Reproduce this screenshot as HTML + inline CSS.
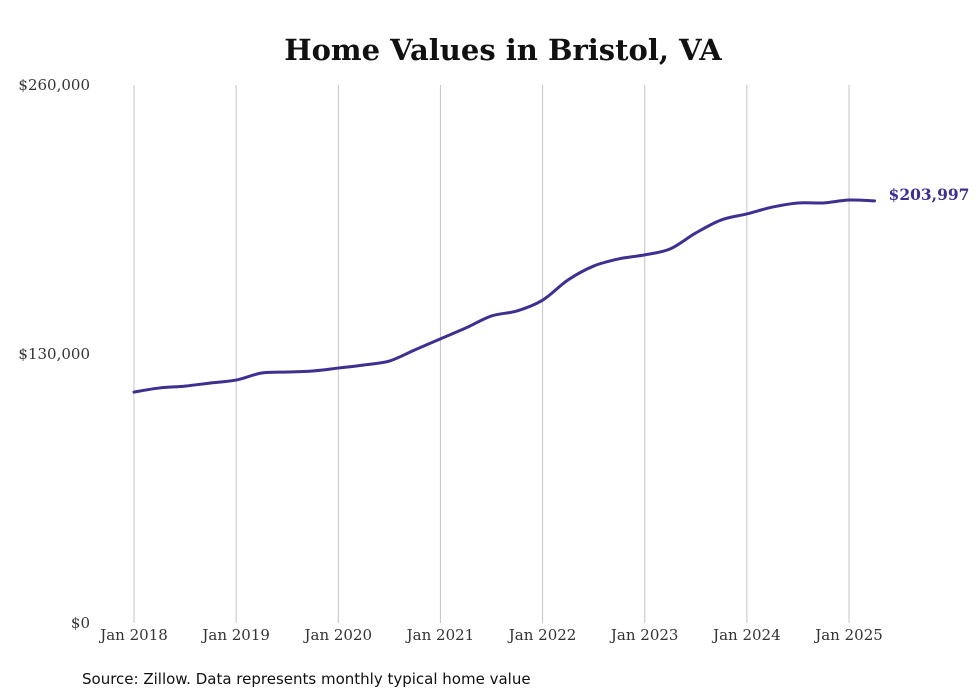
<!DOCTYPE html>
<html><head><meta charset="utf-8">
<style>
html,body{margin:0;padding:0;background:#fff;}
svg{display:block;font-family:"DejaVu Serif","Liberation Serif",serif;}
</style></head>
<body>
<svg id="chart" width="980" height="699" viewBox="0 0 980 699">
<text x="503" y="60" text-anchor="middle" font-size="29" font-weight="bold" fill="#111">Home Values in Bristol, VA</text>
<g id="grid"></g>
<g id="yticks"></g>
<g id="xticks"></g>
<path id="line" fill="none" stroke="#3d3090" stroke-width="3" stroke-linejoin="round" stroke-linecap="round"></path>
<text id="endlabel" font-size="15.5" font-weight="bold" fill="#3d3090"></text>
<text x="82" y="684" font-size="15" fill="#111" font-family="DejaVu Sans, Liberation Sans, sans-serif">Source: Zillow. Data represents monthly typical home value</text>
</svg>
<script>
const months = [0,3,6,9,12,15,18,21,24,27,30,33,36,39,42,45,48,51,54,57,60,63,66,69,72,75,78,81,84,87];
const values = [111.6,113.6,114.5,116,117.4,120.8,121.3,121.8,123.2,124.7,126.6,132,137.3,142.6,148.4,150.8,156,165.8,172.5,176,177.9,180.8,188.5,194.8,197.7,201,203,203,204.4,204.0];
const yTickValues = [0,130,260];
const yTickLabels = ["$0","$130,000","$260,000"];
const xTickMonths = [0,12,24,36,48,60,72,84];
const xTickLabels = ["Jan 2018","Jan 2019","Jan 2020","Jan 2021","Jan 2022","Jan 2023","Jan 2024","Jan 2025"];
const lastLabel = "$203,997";

const NS="http://www.w3.org/2000/svg";
const x = m => 134 + m*(849-134)/84;
const y = v => 623 - v*(623-85)/260;
const grid=document.getElementById('grid'), yt=document.getElementById('yticks'), xt=document.getElementById('xticks');
xTickMonths.forEach((m,i)=>{
  const l=document.createElementNS(NS,'line');
  l.setAttribute('x1',x(m));l.setAttribute('x2',x(m));l.setAttribute('y1',85);l.setAttribute('y2',623);
  l.setAttribute('stroke','#c4c4c4');l.setAttribute('stroke-width','1');
  
  
  grid.appendChild(l);
  const t=document.createElementNS(NS,'text');
  t.setAttribute('x',x(m));t.setAttribute('y',640);t.setAttribute('text-anchor','middle');
  t.setAttribute('font-size','15');t.setAttribute('fill','#333');
  t.textContent=xTickLabels[i];
  
  
  xt.appendChild(t);
});
yTickValues.forEach((v,i)=>{
  const t=document.createElementNS(NS,'text');
  t.setAttribute('x',90);t.setAttribute('y',y(v)+5);t.setAttribute('text-anchor','end');
  t.setAttribute('font-size','15');t.setAttribute('fill','#333');
  t.textContent=yTickLabels[i];
  
  
  yt.appendChild(t);
});
const pts=months.map((m,i)=>[x(m),y(values[i])]);
let d=`M${pts[0][0]},${pts[0][1]}`;
for(let i=0;i<pts.length-1;i++){
  const p0=pts[Math.max(0,i-1)],p1=pts[i],p2=pts[i+1],p3=pts[Math.min(pts.length-1,i+2)];
  const c1=[p1[0]+(p2[0]-p0[0])/6,p1[1]+(p2[1]-p0[1])/6];
  const c2=[p2[0]-(p3[0]-p1[0])/6,p2[1]-(p3[1]-p1[1])/6];
  d+=` C${c1[0]},${c1[1]} ${c2[0]},${c2[1]} ${p2[0]},${p2[1]}`;
}
document.getElementById('line').setAttribute('d',d);
const last=pts[pts.length-1];
const el=document.getElementById('endlabel');
el.setAttribute('x',last[0]+14);el.setAttribute('y',last[1]-1);
el.textContent=lastLabel;
</script>
</body></html>
